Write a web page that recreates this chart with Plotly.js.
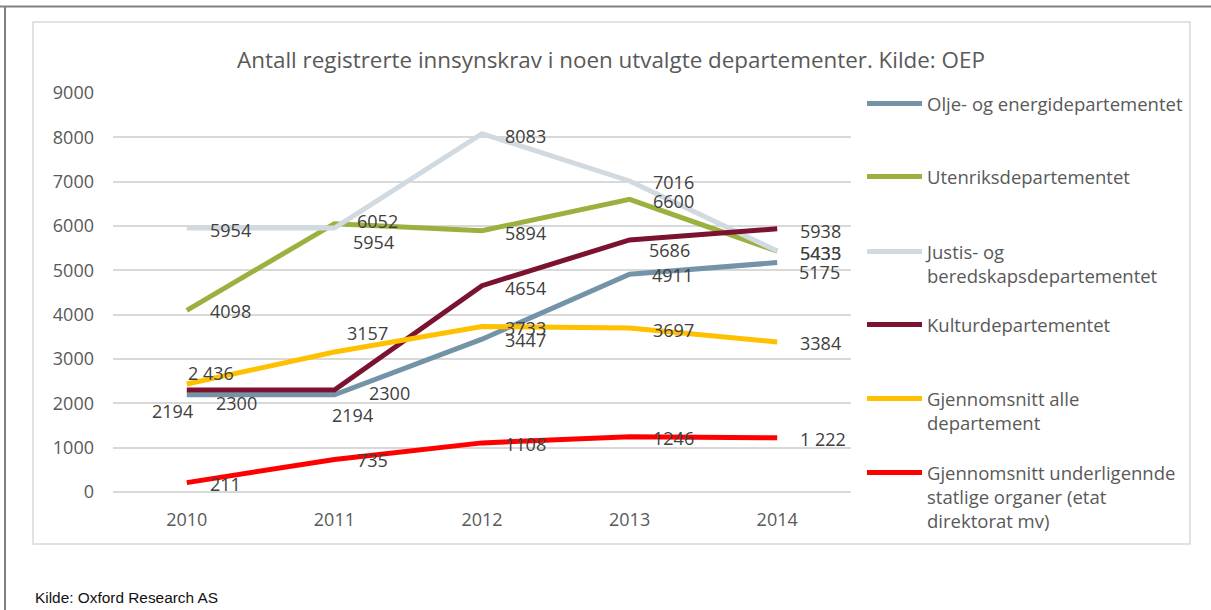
<!DOCTYPE html>
<html>
<head>
<meta charset="utf-8">
<script src="https://cdn.plot.ly/plotly-3.0.1.min.js"></script>
<style>
  html, body { margin: 0; padding: 0; background: #ffffff; }
  #chart { width: 1211px; height: 610px; }
</style>
</head>
<body>
<div id="chart"></div>
<script>
// ---- Data ----
const years = [2010, 2011, 2012, 2013, 2014];
const yTicks = [0, 1000, 2000, 3000, 4000, 5000, 6000, 7000, 8000, 9000];
const seriesNames = [
  "Olje- og energidepartementet",
  "Utenriksdepartementet",
  "Justis- og<br>beredskapsdepartementet",
  "Kulturdepartementet",
  "Gjennomsnitt alle<br>departement",
  "Gjennomsnitt underligennde<br>statlige organer (etat<br>direktorat mv)"
];
const olje       = [2194, 2194, 3447, 4911, 5175];
const utenriks   = [4098, 6052, 5894, 6600, 5433];
const justis     = [5954, 5954, 8083, 7016, 5435];
const kultur     = [2300, 2300, 4654, 5686, 5938];
const snittAlle  = [2436, 3157, 3733, 3697, 3384];
const snittUnder = [211, 735, 1108, 1246, 1222];
// labels written with a thousands space in the source
const spacedOlje = [false,false,false,false,false];
const spacedUtenriks = [false,false,false,false,false];
const spacedJustis = [false,false,false,false,false];
const spacedKultur = [false,false,false,false,false];
const spacedSnittAlle = [true,false,false,false,false];
const spacedSnittUnder = [false,false,false,false,true];

// ---- Styles ----
const colors = ["#7393A7", "#9BB13F", "#D1D9E1", "#7B1230", "#FFC000", "#FF0000"];
const allSeries = [olje, utenriks, justis, kultur, snittAlle, snittUnder];
const allSpaced = [spacedOlje, spacedUtenriks, spacedJustis, spacedKultur, spacedSnittAlle, spacedSnittUnder];
// label offsets in px: [dx of left edge from point, dy of centre (down +)]
const labelOffsets = [
  [[-37,16],[-4,20],[21,1],[20,1],[20,9]],
  [[21,1],[21,-3],[21,2],[21,2],[21,2]],
  [[21,2],[17,14],[21,2],[21,1],[21,2]],
  [[27,13],[33,3],[21,2],[17,10],[21,2]],
  [[-1,-11],[11,-19],[21,1],[21,2],[21,1]],
  [[21,1],[21,1],[21,1],[21,1],[21,1]]
];
// legend first-line centre (px from top)
const legendRows = [104, 177, 252, 325, 399, 473];

const W = 1211, H = 610;
const mL = 113, mR = W - 851, mT = 93, mB = H - 492;
const plotW = W - mL - mR, plotH = H - mT - mB;
const px2x = p => (p - mL) / plotW;
const px2y = p => (H - mB - p) / plotH;

function fmt(v, spaced) {
  const s = String(v);
  if (!spaced || s.length < 4) return s;
  return s.slice(0, s.length - 3) + " " + s.slice(s.length - 3);
}

const legendKeys = ["legend", "legend2", "legend3", "legend4", "legend5", "legend6"];

const traces = allSeries.map((vals, i) => ({
  type: "scatter",
  mode: "lines",
  x: years,
  y: vals,
  name: seriesNames[i],
  legend: legendKeys[i],
  line: { color: colors[i], width: 5, shape: "linear" },
  hoverinfo: "x+y+name"
}));

const annotations = [];
allSeries.forEach((vals, i) => {
  vals.forEach((v, j) => {
    annotations.push({
      x: years[j], y: v, xref: "x", yref: "y",
      text: fmt(v, allSpaced[i][j]),
      showarrow: false,
      xanchor: "left", yanchor: "middle",
      xshift: labelOffsets[i][j][0],
      yshift: -labelOffsets[i][j][1],
      font: { family: "Open Sans, sans-serif", size: 18, color: "#404040" }
    });
  });
});
annotations.push({
  text: "Kilde: Oxford Research AS",
  xref: "paper", yref: "paper",
  x: px2x(33), y: px2y(597),
  xanchor: "left", yanchor: "middle",
  showarrow: false,
  font: { family: "Liberation Sans, Arial, sans-serif", size: 15.4, color: "#111111" }
});

const layout = {
  width: W, height: H,
  margin: { l: mL, r: mR, t: mT, b: mB, pad: 0 },
  paper_bgcolor: "#ffffff",
  plot_bgcolor: "#ffffff",
  title: {
    text: "Antall registrerte innsynskrav i noen utvalgte departementer. Kilde: OEP",
    font: { family: "Open Sans, sans-serif", size: 22.4, color: "#595959" },
    xref: "paper", yref: "container",
    x: px2x(611), xanchor: "center",
    y: 1 - 60 / H, yanchor: "middle"
  },
  xaxis: {
    range: [2009.5, 2014.5],
    tickvals: years,
    ticktext: years.map(String),
    showgrid: false,
    zeroline: false,
    showline: false,
    ticks: "",
    ticklabelstandoff: 15,
    tickfont: { family: "Open Sans, sans-serif", size: 18, color: "#595959" },
    fixedrange: true
  },
  yaxis: {
    range: [0, 9000],
    tickvals: yTicks,
    ticktext: yTicks.map(String),
    showgrid: true,
    gridcolor: "#D9D9D9",
    gridwidth: 1.5,
    zeroline: true,
    zerolinecolor: "#D9D9D9",
    zerolinewidth: 1.5,
    showline: false,
    ticks: "",
    ticklabelstandoff: 18,
    tickfont: { family: "Open Sans, sans-serif", size: 18, color: "#595959" },
    fixedrange: true
  },
  showlegend: true,
  annotations: annotations,
  shapes: [
    { type: "line", xref: "paper", yref: "paper",
      x0: px2x(0), x1: px2x(W), y0: px2y(6.5), y1: px2y(6.5),
      line: { color: "#808080", width: 2 } },
    { type: "line", xref: "paper", yref: "paper",
      x0: px2x(5), x1: px2x(5), y0: px2y(6), y1: px2y(H),
      line: { color: "#808080", width: 2 } },
    { type: "rect", xref: "paper", yref: "paper",
      x0: px2x(33), x1: px2x(1190), y0: px2y(22), y1: px2y(544),
      line: { color: "#D9D9D9", width: 1.5 }, fillcolor: "rgba(0,0,0,0)", layer: "below" }
  ]
};

legendKeys.forEach((k, i) => {
  layout[k] = {
    x: px2x(862), xanchor: "left",
    y: px2y(legendRows[i] - 19), yanchor: "top",
    bgcolor: "rgba(0,0,0,0)",
    borderwidth: 0,
    valign: "top",
    itemwidth: 55,
    font: { family: "Open Sans, sans-serif", size: 18.5, color: "#595959" }
  };
});

Plotly.newPlot("chart", traces, layout, { displayModeBar: false, responsive: false, staticPlot: false });
</script>
</body>
</html>
